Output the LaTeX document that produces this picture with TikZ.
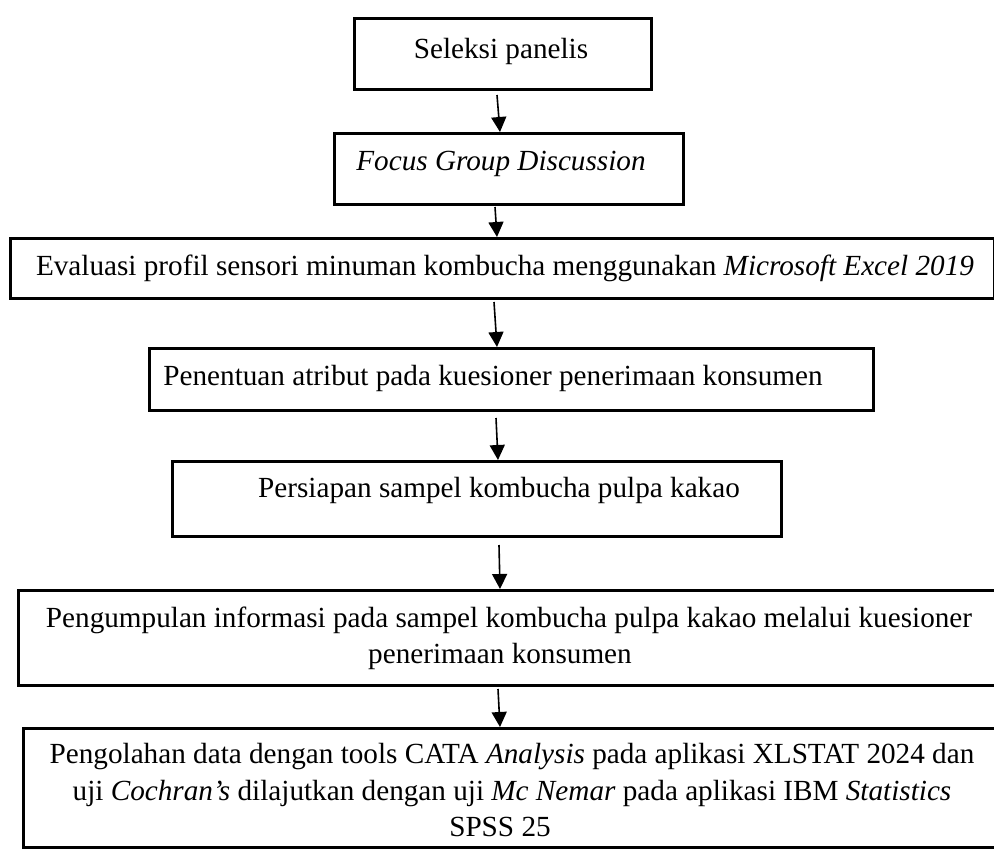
\documentclass[tikz,border=0pt]{standalone}
\usepackage{fontspec}
\setmainfont{Liberation Serif}
\usetikzlibrary{arrows.meta}
\begin{document}
\begin{tikzpicture}[x=1pt,y=-1pt,
  box/.style={draw, line width=2.8pt, inner sep=0pt, anchor=north west},
  txt/.style={anchor=base, inner sep=0pt, font=\fontsize{29.2}{36}\selectfont},
  arr/.style={line width=1.6pt, -{Triangle[length=15pt,width=15pt]}}]
\useasboundingbox (0,0) rectangle (994,849);
% boxes
\node[box, minimum width=297pt, minimum height=71pt] (b1) at (353,17) {};
\node[box, minimum width=349pt, minimum height=71pt] (b2) at (333,132) {};
\node[box, minimum width=984pt, minimum height=60pt] (b3) at (9,237) {};
\node[box, minimum width=724pt, minimum height=62pt] (b4) at (148,347) {};
\node[box, minimum width=609pt, minimum height=75pt] (b5) at (171,460) {};
\node[box, minimum width=990pt, minimum height=95pt] (b6) at (17,589) {};
\node[box, minimum width=990pt, minimum height=119pt] (b7) at (22,727) {};
% texts
\node[txt] (t1) at (501,58) {Seleksi panelis};
\node[txt] (t2) at (501,170) {\textit{Focus Group Discussion}};
\node[txt] (t3) at (505,275) {Evaluasi profil sensori minuman kombucha menggunakan \textit{Microsoft Excel 2019}};
\node[txt] (t4) at (493,385) {Penentuan atribut pada kuesioner penerimaan konsumen};
\node[txt] (t5) at (499,497) {Persiapan sampel kombucha pulpa kakao};
\node[txt] (t6a) at (509,627) {Pengumpulan informasi pada sampel kombucha pulpa kakao melalui kuesioner};
\node[txt] (t6b) at (500,663) {penerimaan konsumen};
\node[txt] (t7a) at (512,763) {Pengolahan data dengan tools CATA \textit{Analysis} pada aplikasi XLSTAT 2024 dan};
\node[txt] (t7b) at (512,800) {uji \textit{Cochran’s} dilajutkan dengan uji \textit{Mc Nemar} pada aplikasi IBM \textit{Statistics}};
\node[txt] (t7c) at (500,836) {SPSS 25};
% arrow starts
\coordinate (s1) at (497,95);
\coordinate (s2) at (495,207);
\coordinate (s3) at (494,302);
\coordinate (s4) at (496,418);
\coordinate (s5) at (499,545);
\coordinate (s6) at (498,689);
\coordinate (e1) at (500,0);
\coordinate (e2) at (497,0);
\coordinate (e3) at (497,0);
\coordinate (e4) at (498,0);
\coordinate (e5) at (500,0);
\coordinate (e6) at (500,0);
\draw[arr] (s1) -- (e1 |- b2.north);
\draw[arr] (s2) -- (e2 |- b3.north);
\draw[arr] (s3) -- (e3 |- b4.north);
\draw[arr] (s4) -- (e4 |- b5.north);
\draw[arr] (s5) -- (e5 |- b6.north);
\draw[arr] (s6) -- (e6 |- b7.north);
\end{tikzpicture}
\end{document}
